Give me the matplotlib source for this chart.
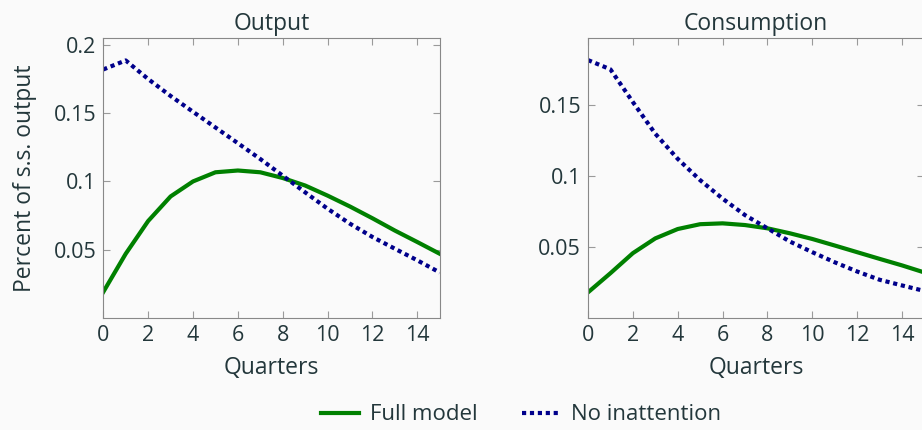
import matplotlib.pyplot as plt

# impulse responses
quarters = list(range(16))
output_full = [0.019, 0.047, 0.071, 0.089, 0.100, 0.1067, 0.108, 0.1067,
               0.1025, 0.097, 0.0896, 0.0816, 0.073, 0.064, 0.0556, 0.047]
output_noinatt = [0.182, 0.1886, 0.175, 0.1626, 0.151, 0.1395, 0.128, 0.1164,
                  0.1042, 0.092, 0.080, 0.069, 0.0593, 0.0507, 0.0422, 0.0333]
cons_full = [0.018, 0.0315, 0.0456, 0.056, 0.0626, 0.066, 0.0666, 0.0654,
             0.0631, 0.0596, 0.0556, 0.051, 0.0463, 0.0416, 0.037, 0.032]
cons_noinatt = [0.1815, 0.175, 0.152, 0.1297, 0.112, 0.097, 0.084, 0.0724,
                0.0631, 0.0538, 0.0463, 0.0392, 0.0327, 0.0269, 0.0229, 0.019]

xticks = [0, 2, 4, 6, 8, 10, 12, 14]
yticks_out = [0.05, 0.1, 0.15, 0.2]
yticks_cons = [0.05, 0.1, 0.15]

text_col = '#23373b'
bg = '#fafafa'
plt.rcParams['font.family'] = ['Open Sans', 'DejaVu Sans']
plt.rcParams['text.color'] = text_col

fig = plt.figure(figsize=(9.22, 4.3), dpi=100, facecolor=bg)
ax1 = fig.add_axes([0.112, 0.2605, 0.365, 0.651])
ax2 = fig.add_axes([0.6377, 0.2605, 0.365, 0.651])

panels = [(ax1, 'Output', output_full, output_noinatt, yticks_out, 0.205),
          (ax2, 'Consumption', cons_full, cons_noinatt, yticks_cons, 0.197)]

for ax, title, full, noin, yt, ytop in panels:
    ax.set_facecolor(bg)
    l1, = ax.plot(quarters, full, color='#008000', lw=3.0, label='Full model')
    l2, = ax.plot(quarters, noin, color='#00008b', lw=3.0, ls=(0, (1, 0.9)),
                  label='No inattention')
    ax.set_xlim(0, 15)
    ax.set_ylim(0, ytop)
    ax.set_xticks(xticks)
    ax.set_yticks(yt)
    ax.set_yticklabels([('%g' % v) for v in yt])
    ax.tick_params(direction='in', top=True, right=True, color='#9a9a9a',
                   labelcolor=text_col, labelsize=15.5, length=5, pad=5)
    for s in ax.spines.values():
        s.set_color('#888888')
    ax.set_title(title, fontsize=16.5, color=text_col, pad=6)
    ax.set_xlabel('Quarters', fontsize=16.5, color=text_col, labelpad=7)

ax1.set_ylabel('Percent of s.s. output', fontsize=16.5, color=text_col, labelpad=12)

fig.legend(handles=[l1, l2], loc='center', bbox_to_anchor=(0.565, 0.035),
           ncol=2, frameon=False, fontsize=16, handlelength=1.7,
           columnspacing=2.0, handletextpad=0.5)

plt.savefig('out.png', dpi=100, facecolor=bg)
